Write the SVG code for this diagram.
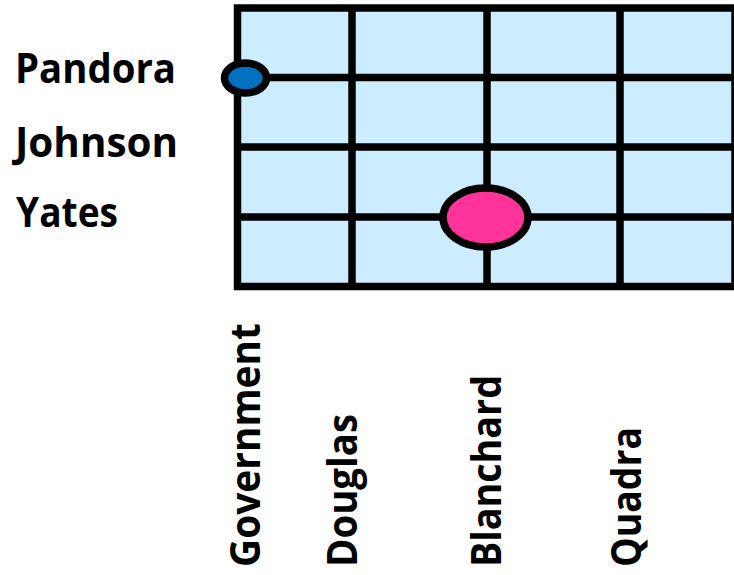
<svg xmlns="http://www.w3.org/2000/svg" width="734" height="575" viewBox="0 0 734 575">
  <style>
    .lbl { font-family: "Open Sans", "Liberation Sans", sans-serif; font-weight: bold; font-size: 42px; fill: #000; }
    .grid { stroke: #000; stroke-width: 7.5; fill: none; }
    .block { stroke: #000; stroke-width: 7.5; fill: #CCECFF; }
    .mark { stroke: #000; stroke-width: 7.5; }
  </style>
  <rect width="734" height="575" fill="#ffffff"/>

  <!-- street grid -->
  <g id="grid">
    <rect class="block" x="237.5" y="8" width="497.5" height="278.5"/>
    <line class="grid" x1="352" y1="8" x2="352" y2="286.5"/>
    <line class="grid" x1="487" y1="8" x2="487" y2="286.5"/>
    <line class="grid" x1="620" y1="8" x2="620" y2="286.5"/>
    <line class="grid" x1="237.5" y1="77.5" x2="735" y2="77.5"/>
    <line class="grid" x1="237.5" y1="147" x2="735" y2="147"/>
    <line class="grid" x1="237.5" y1="217" x2="735" y2="217"/>
  </g>

  <!-- intersection markers -->
  <g id="marker-government-pandora">
    <ellipse class="mark" cx="245.5" cy="78" rx="21" ry="15" fill="#0070C0"/>
  </g>
  <g id="marker-blanchard-yates">
    <ellipse class="mark" cx="485.5" cy="217.5" rx="42.5" ry="29.5" fill="#FF3399"/>
  </g>

  <!-- row labels -->
  <g id="row-labels">
    <text class="lbl" x="15" y="83" textLength="161" lengthAdjust="spacingAndGlyphs">Pandora</text>
    <text class="lbl" x="15" y="157" textLength="163" lengthAdjust="spacingAndGlyphs">Johnson</text>
    <text class="lbl" x="16" y="227" textLength="102" lengthAdjust="spacingAndGlyphs">Yates</text>
  </g>

  <!-- column labels -->
  <g id="column-labels">
    <text class="lbl" transform="translate(260,567) rotate(-90)" textLength="244" lengthAdjust="spacingAndGlyphs">Government</text>
    <text class="lbl" transform="translate(357,567) rotate(-90)" textLength="153" lengthAdjust="spacingAndGlyphs">Douglas</text>
    <text class="lbl" transform="translate(501,567) rotate(-90)" textLength="192" lengthAdjust="spacingAndGlyphs">Blanchard</text>
    <text class="lbl" transform="translate(641,567) rotate(-90)" textLength="140" lengthAdjust="spacingAndGlyphs">Quadra</text>
  </g>
</svg>
